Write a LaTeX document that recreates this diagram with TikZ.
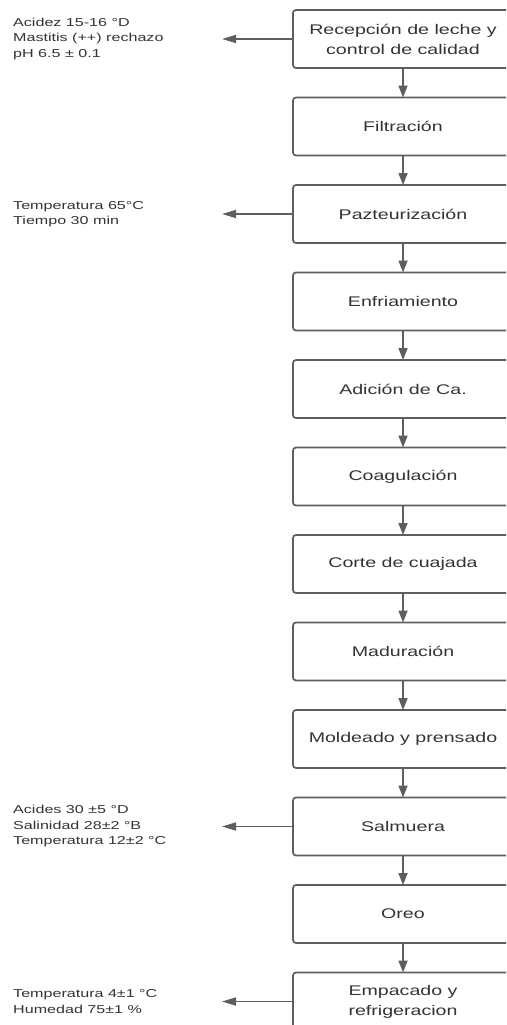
\documentclass[tikz,border=0pt]{standalone}
\usepackage{fontspec}
\setmainfont{Liberation Sans}[FakeStretch=1.4]
\usetikzlibrary{positioning,arrows.meta}
\definecolor{linegray}{HTML}{5E5E5E}
\definecolor{textgray}{HTML}{333333}

\begin{document}
\begin{tikzpicture}[x=1pt,y=1pt,
   stepbox/.style={draw=linegray,line width=1.7pt,rounded corners=3pt,outer sep=0pt,
      minimum width=220pt,minimum height=58pt,align=center,text=textgray,
      font=\fontsize{14}{20}\selectfont},
   flow/.style={draw=linegray,line width=1.7pt,-{Triangle[length=12pt,width=9pt]}},
   sideflow/.style={draw=linegray,line width=1.7pt,-{Triangle[length=14pt,width=8pt]}},
   param/.style={anchor=west,align=left,inner sep=0pt,text=textgray,
      font=\fontsize{11.5}{15.5}\selectfont},
   node distance=29.5pt]
\useasboundingbox (0,0) rectangle (506,-1025);
\clip (0,0) rectangle (506,-1025);
\coordinate (lm) at (13,0);
\coordinate (tip) at (222,0);

\node[stepbox] (rec) at (403,-39) {Recepción de leche y\\control de calidad};
\node[stepbox,below=of rec] (fil) {Filtración};
\node[stepbox,below=of fil] (pas) {Pazteurización};
\node[stepbox,below=of pas] (enf) {Enfriamiento};
\node[stepbox,below=of enf] (cal) {Adición de Ca.};
\node[stepbox,below=of cal] (coa) {Coagulación};
\node[stepbox,below=of coa] (cor) {Corte de cuajada};
\node[stepbox,below=of cor] (mad) {Maduración};
\node[stepbox,below=of mad] (mol) {Moldeado y prensado};
\node[stepbox,below=of mol] (sal) {Salmuera};
\node[stepbox,below=of sal] (ore) {Oreo};
\node[stepbox,below=of ore] (emp) {Empacado y\\refrigeracion};

\foreach \a/\b in {rec/fil,fil/pas,pas/enf,enf/cal,cal/coa,coa/cor,cor/mad,mad/mol,mol/sal,sal/ore,ore/emp}
   \draw[flow] (\a) -- (\b);

\foreach \s in {rec,pas,sal,emp}
   \draw[sideflow] (\s.west) -- (\s.west -| tip);

\node[param] (prec) at (lm |- rec.west) {Acidez 15-16 °D\\Mastitis (++) rechazo\\pH 6.5 ± 0.1};
\node[param] (ppas) at (lm |- pas.west) {Temperatura 65°C\\Tiempo 30 min};
\node[param] (psal) at (lm |- sal.west) {Acides 30 ±5 °D\\Salinidad 28±2 °B\\Temperatura 12±2 °C};
\node[param] (pemp) at (lm |- emp.west) {Temperatura 4±1 °C\\Humedad 75±1 \%};
\end{tikzpicture}
\end{document}
